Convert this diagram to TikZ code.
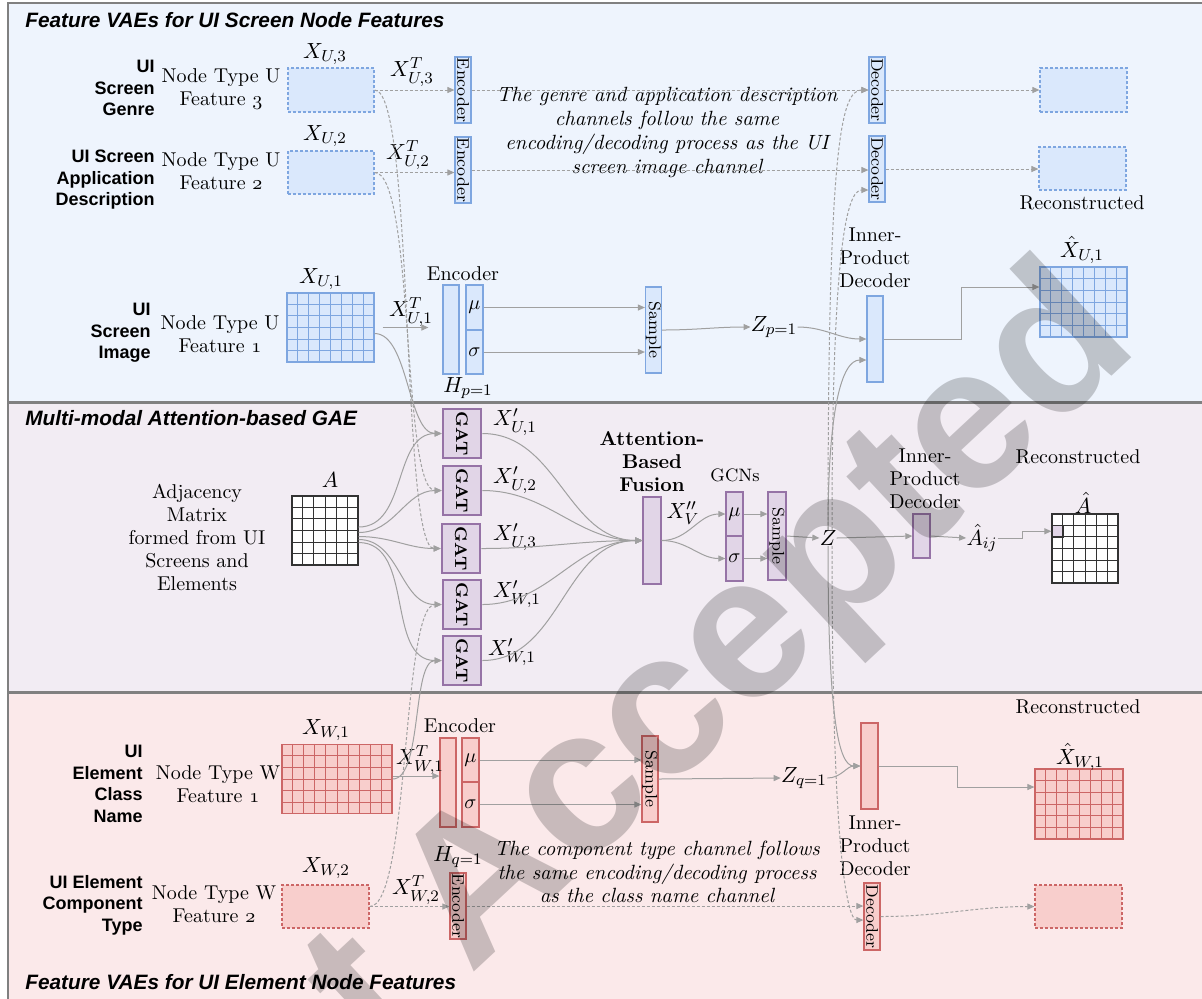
\documentclass[tikz,border=0pt]{standalone}
\usepackage{amsmath}
\usepackage{fontspec}
\setsansfont{Liberation Sans}
\usetikzlibrary{arrows.meta,calc}

\definecolor{bluefill}{HTML}{DAE8FC}
\definecolor{bluedraw}{HTML}{7EA6E0}
\definecolor{purpfill}{HTML}{E1D5E7}
\definecolor{purpdraw}{HTML}{9673A6}
\definecolor{redfill}{HTML}{F8CECC}
\definecolor{reddraw}{HTML}{CC6666}
\definecolor{linegray}{HTML}{A0A0A0}
\definecolor{framegray}{HTML}{808080}
\definecolor{bgblue}{HTML}{EEF4FD}
\definecolor{bgpurple}{HTML}{F2ECF3}
\definecolor{bgred}{HTML}{FBE9EA}

\tikzset{>/.tip={Triangle[length=3.5pt,width=3pt]}}

\newcommand{\vt}[1]{\rotatebox{-90}{#1}}
\newcommand{\osf}[1]{{\usefont{OML}{cmm}{m}{it}#1}}
\newcommand{\ms}[1]{{\fontsize{10}{10}\selectfont$#1$}}
\newcommand{\cellgrid}[3]{%
  \pgfmathtruncatemacro{\gridnx}{#2-1}%
  \pgfmathtruncatemacro{\gridny}{#3-1}%
  \foreach \i in {1,...,\gridnx}
    \draw ($(#1.north west)!\i/#2!(#1.north east)$) -- ($(#1.south west)!\i/#2!(#1.south east)$);
  \foreach \j in {1,...,\gridny}
    \draw ($(#1.north west)!\j/#3!(#1.south west)$) -- ($(#1.north east)!\j/#3!(#1.south east)$);
}

\begin{document}
\begin{tikzpicture}[x=0.5pt, y=0.5pt,
  txt/.style={inner sep=0pt, align=center, font=\fontsize{10}{11.5}\selectfont},
  mlab/.style={inner sep=0pt, font=\fontsize{11}{12}\selectfont},
  sidelab/.style={inner sep=0pt, anchor=east, align=right, font=\sffamily\bfseries\fontsize{9}{10.75}\selectfont},
  ptitle/.style={inner sep=0pt, anchor=west, font=\sffamily\bfseries\itshape\fontsize{10.4}{12}\selectfont},
  remark/.style={inner sep=0pt, align=center, font=\itshape\fontsize{10.3}{11.85}\selectfont},
  blk/.style 2 args={inner sep=0pt, line width=0.6pt, minimum width=#1*0.5pt, minimum height=#2*0.5pt, font=\fontsize{8.4}{9}\selectfont},
  ub/.style={draw=bluedraw, fill=bluefill},
  pb/.style={draw=purpdraw, fill=purpfill},
  rb/.style={draw=reddraw, fill=redfill},
  dbox/.style={dash pattern=on 1.5pt off 1pt},
  gat/.style={blk={38}{49}, pb, line width=1.3pt, font=\bfseries\fontsize{8.4}{9}\selectfont},
  conn/.style={draw=linegray, line width=0.5pt, ->},
  dconn/.style={conn, dash pattern=on 1.5pt off 1pt},
]
\useasboundingbox (0,0) rectangle (1202,-998);

% panels
\fill[bgblue] (8,-3) rectangle (1210,-402);
\fill[bgpurple] (8,-402) rectangle (1210,-692);
\fill[bgred] (8,-692) rectangle (1210,-1005);
\draw[framegray, line width=1.3pt] (1210,-3) -- (8,-3) -- (8,-1005);
\draw[framegray, line width=1.5pt] (8,-402) -- (1210,-402) (8,-692) -- (1210,-692);

\node[ptitle] (tU) at (25,-20) {Feature VAEs for UI Screen Node Features};
\node[ptitle] (tG) at (25,-418) {Multi-modal Attention-based GAE};
\node[ptitle] (tW) at (25,-982) {Feature VAEs for UI Element Node Features};

% ---- UI screen features
\node[sidelab] (sGen) at (155,-88) {UI\\Screen\\Genre};
\node[sidelab] (sApp) at (155,-180) {UI Screen\\Application\\Description};
\node[sidelab] (sImg) at (151,-333) {UI\\Screen\\Image};
\node[txt] (nU3) at (221,-89) {Node Type U\\Feature \osf{3}};
\node[txt] (nU2) at (221,-171) {Node Type U\\Feature \osf{2}};
\node[txt] (nU1) at (220,-334) {Node Type U\\Feature \osf{1}};

\node[blk={86}{44}, ub, dbox] (xU3) at (331,-90) {};
\node[blk={86}{43}, ub, dbox] (xU2) at (331,-172.5) {};
\node[blk={87}{69}, ub] (xU1) at (330.5,-327.5) {};
\node[mlab] (lxU3) at (325,-54) {$X_{U,3}$};
\node[mlab] (lxU2) at (325,-136) {$X_{U,2}$};
\node[mlab] (lxU1) at (321,-279) {$X_{U,1}$};

\node[blk={16}{66}, ub] (enc3) at (463,-90) {\vt{Encoder}};
\node[blk={16}{66}, ub] (enc2) at (463,-170) {\vt{Encoder}};
\node[mlab] (lt3) at (412,-72) {$X^T_{U,3}$};
\node[mlab] (lt2) at (408,-155) {$X^T_{U,2}$};
\node[blk={16}{66}, ub] (dec3) at (877,-90) {\vt{Decoder}};
\node[blk={16}{66}, ub] (dec2) at (877,-169) {\vt{Decoder}};
\node[blk={87}{44}, ub, dbox] (rU3) at (1083.5,-90) {};
\node[blk={87}{43}, ub, dbox] (rU2) at (1082.5,-168.5) {};
\node[txt] (recU) at (1082,-203) {Reconstructed};
\node[remark] (noteU) at (667,-132.5) {The genre and application description\\channels follow the same\\encoding/decoding process as the UI\\screen image channel};

\node[txt] (lencU) at (463,-274) {Encoder};
\node[blk={16}{89}, ub] (hU) at (451,-329.5) {};
\node[blk={17}{45}, ub] (muU) at (474.5,-307.5) {\ms{\mu}};
\node[blk={17}{44}, ub] (sigU) at (474.5,-352) {\ms{\sigma}};
\node[mlab] (lhU) at (468,-388) {$H_{p=1}$};
\node[mlab] (ltU1) at (411,-312) {$X^T_{U,1}$};
\node[blk={16}{86}, ub] (sampU) at (653.5,-330) {\vt{Sample}};
\node[mlab] (zp) at (774,-327) {$Z_{p=1}$};
\node[txt] (lipdU) at (875,-258) {Inner-\\Product\\Decoder};
\node[blk={16}{86}, ub] (ipdU) at (875,-339) {};
\node[blk={87}{70}, ub] (rxU1) at (1083.5,-302) {};
\node[mlab] (lrxU1) at (1082,-250) {$\hat{X}_{U,1}$};

% ---- GAE
\node[txt] (adj) at (197,-537) {Adjacency\\Matrix\\formed from UI\\Screens and\\Elements};
\node[blk={66}{69}, draw=black!80, fill=white] (A) at (325,-530.5) {};
\node[mlab] (lA) at (330,-480) {$A$};

\node[gat] (gat1) at (462,-433.5) {\vt{GAT}};
\node[gat] (gat2) at (462,-490.5) {\vt{GAT}};
\node[gat] (gat3) at (461,-548.5) {\vt{GAT}};
\node[gat] (gat4) at (462,-604.5) {\vt{GAT}};
\node[gat] (gat5) at (462,-660.5) {\vt{GAT}};
\node[mlab] (lg1) at (515,-422) {$X'_{U,1}$};
\node[mlab] (lg2) at (515,-480) {$X'_{U,2}$};
\node[mlab] (lg3) at (515,-537) {$X'_{U,3}$};
\node[mlab] (lg4) at (517,-594) {$X'_{W,1}$};
\node[mlab] (lg5) at (512,-652) {$X'_{W,1}$};

\node[blk={18}{87}, pb] (fus) at (652,-540.5) {};
\node[txt, font=\bfseries\fontsize{10}{11.5}\selectfont] (lfus) at (652,-462) {Attention-\\Based\\Fusion};
\node[mlab] (lxv) at (683,-513) {$X''_{V}$};
\node[txt, font=\fontsize{9}{10}\selectfont] (lgcn) at (735,-475) {GCNs};
\node[blk={17}{44}, pb] (muG) at (734.5,-514) {\ms{\mu}};
\node[blk={17}{45}, pb] (sigG) at (734.5,-558.5) {\ms{\sigma}};
\node[blk={18}{88}, pb] (sampG) at (777,-536) {\vt{Sample}};
\node[mlab] (Z) at (828,-538) {$Z$};
\node[txt] (lipdA) at (925,-479) {Inner-\\Product\\Decoder};
\node[blk={17}{44}, pb] (ipdA) at (921.5,-536) {};
\node[mlab] (Aij) at (982,-538) {$\hat{A}_{ij}$};
\node[txt] (recA) at (1078,-457) {Reconstructed};
\node[mlab] (lAh) at (1083,-503) {$\hat{A}$};
\node[blk={66}{69}, draw=black!80, fill=white] (Ah) at (1085,-548.5) {};

% ---- UI element features
\node[sidelab] (sCls) at (143,-784) {UI\\Element\\Class\\Name};
\node[sidelab] (sCmp) at (143,-905) {UI Element\\Component\\Type};
\node[txt] (nW1) at (218,-784) {Node Type W\\Feature \osf{1}};
\node[txt] (nW2) at (214,-904) {Node Type W\\Feature \osf{2}};

\node[blk={110}{69}, rb] (xW1) at (337,-779) {};
\node[mlab] (lxW1) at (326,-730) {$X_{W,1}$};
\node[blk={87}{43}, rb, dbox] (xW2) at (325.5,-906.5) {};
\node[mlab] (lxW2) at (326,-868) {$X_{W,2}$};
\node[txt] (lencW) at (460,-726) {Encoder};
\node[blk={16}{89}, rb] (hW) at (448,-782.5) {};
\node[blk={17}{44}, rb] (muW) at (470.5,-760) {\ms{\mu}};
\node[blk={17}{45}, rb] (sigW) at (470.5,-804.5) {\ms{\sigma}};
\node[mlab] (lhW) at (458,-857) {$H_{q=1}$};
\node[mlab] (ltW1) at (420,-760) {$X^T_{W,1}$};
\node[blk={16}{86}, rb] (sampW) at (650,-779) {\vt{Sample}};
\node[mlab] (zq) at (804,-778) {$Z_{q=1}$};
\node[blk={17}{86}, rb] (ipdW) at (869.5,-766) {};
\node[txt] (lipdW) at (875,-846) {Inner-\\Product\\Decoder};
\node[blk={88}{70}, rb] (rxW1) at (1079,-804) {};
\node[mlab] (lrxW1) at (1080,-757) {$\hat{X}_{W,1}$};
\node[txt] (recW) at (1078,-707) {Reconstructed};
\node[blk={16}{66}, rb] (encW2) at (458,-906) {\vt{Encoder}};
\node[mlab] (ltW2) at (416,-890) {$X^T_{W,2}$};
\node[blk={16}{67}, rb] (decW) at (872,-916.5) {\vt{Decoder}};
\node[blk={87}{43}, rb, dbox] (rW2) at (1078.5,-906.5) {};
\node[remark] (noteW) at (657,-872) {The component type channel follows\\the same encoding/decoding process\\as the class name channel};

% grids
\begin{scope}[bluedraw, line width=0.5pt]
 \cellgrid{xU1}{8}{6}
 \cellgrid{rxU1}{8}{6}
\end{scope}
\begin{scope}[reddraw, line width=0.5pt]
 \cellgrid{xW1}{10}{6}
 \cellgrid{rxW1}{8}{6}
\end{scope}
\begin{scope}[black!80, line width=0.5pt]
 \cellgrid{A}{6}{6}
 \cellgrid{Ah}{6}{6}
\end{scope}
\node[blk={11}{11.5}, draw=black!80, fill=purpfill] (acell) at (1057.5,-531.25) {};

% connectors, screen channels
\draw[dconn] (xU3.east) -- (enc3.west);
\draw[dconn] (xU2.east) -- (xU2.east -| enc2.west);
\draw[dconn] (enc3.east) -- (dec3.west);
\draw[dconn] (enc2.east) -- (enc2.east -| dec2.west);
\draw[dconn] (dec3.east) -- (rU3.west);
\draw[dconn] (dec2.east) -- (dec2.east -| rU2.west);
\draw[conn, shorten <=4pt, shorten >=7pt] (xU1.east) -- (xU1.east -| hU.west);
\draw[conn] (muU.east) -- (muU.east -| sampU.west);
\draw[conn] (sigU.east) -- (sigU.east -| sampU.west);
\draw[conn] (sampU.east) to[out=0,in=180] (zp.west);
\draw[conn] (zp.east) to[out=0,in=180] (ipdU.west);
\draw[conn] (ipdU.east) -- ++(78,0) |- ($(rxU1.west)+(0,15)$);

% GAT inputs
\draw[conn] ($(xU1.east)+(0,-6)$) to[out=0,in=180,distance=17pt] (gat1.west);
\draw[dconn] (xU2.east) to[out=0,in=180,distance=20pt] (gat2.west);
\draw[dconn] (xU3.east) to[out=0,in=180,distance=20pt] (gat3.west);
\draw[dconn] (xW2.east) to[out=0,in=180,distance=20pt] (gat4.west);
\draw[conn] (xW1.east) to[out=0,in=180,distance=15pt] (gat5.west);
\draw[conn] ($(A.east)+(0,3.5)$) to[out=0,in=180] (gat1.west);
\draw[conn] ($(A.east)+(0,-2)$) to[out=0,in=180] (gat2.west);
\draw[conn] ($(A.east)+(0,-6)$) to[out=0,in=180] (gat3.west);
\draw[conn] ($(A.east)+(0,-9)$) to[out=0,in=180] (gat4.west);
\draw[conn] ($(A.east)+(0,-12)$) to[out=0,in=180] (gat5.west);

% fusion and GCN
\draw[conn] (gat1.east) to[out=0,in=180] (fus.west);
\draw[conn] (gat2.east) to[out=0,in=180] (fus.west);
\draw[conn] (gat3.east) to[out=0,in=180] (fus.west);
\draw[conn] (gat4.east) to[out=0,in=180] (fus.west);
\draw[conn] (gat5.east) to[out=0,in=180] (fus.west);
\draw[conn] (fus.east) to[out=0,in=180] (muG.west);
\draw[conn] (fus.east) to[out=0,in=180] (sigG.west);
\draw[conn] (muG.east) -- (muG.east -| sampG.west);
\draw[conn] (sigG.east) -- (sigG.east -| sampG.west);
\draw[conn] (sampG.east) -- (Z.west);
\draw[conn] (Z.east) -- (ipdA.west);
\draw[conn] (ipdA.east) -- (Aij.west);
\draw[conn] (Aij.east) -- ++(25,0) |- (acell.west);

% Z to the decoders
\draw[conn] (Z.north) .. controls +(0,120) and +(-25,0) .. ($(ipdU.west)+(0,-21)$);
\draw[dconn] (Z.north) .. controls +(0,380) and +(-28,0) .. (dec3.west);
\draw[dconn] ($(Z.north)+(4,0)$) .. controls +(0,280) and +(-22,0) .. ($(dec2.west)+(0,-21)$);
\draw[conn] (Z.south) .. controls +(0,-170) and +(-22,0) .. (ipdW.west);
\draw[dconn] ($(Z.south)+(4,0)$) .. controls +(0,-320) and +(-15,0) .. ($(decW.west)+(0,-3.5)$);

% element channels
\draw[conn] ($(xW1.east)+(0,3)$) -- ($(hW.west)+(0,6.5)$);
\draw[conn] (muW.east) -- (muW.east -| sampW.west);
\draw[conn] (sigW.east) -- (sigW.east -| sampW.west);
\draw[conn] (sampW.east) -- (zq.west);
\draw[conn] (zq.east) to[out=0,in=180] (ipdW.west);
\draw[conn] (ipdW.east) -- ++(79,0) |- ($(rxW1.west)+(0,17)$);
\draw[dconn] (xW2.east) -- (xW2.east -| encW2.west);
\draw[dconn] (encW2.east) -- (encW2.east -| decW.west);
\draw[dconn] (decW.east) to[out=0,in=180] (rW2.west);

% watermark
\node[rotate=43, anchor=base west, inner sep=0pt, text=black, opacity=0.2, font=\sffamily\bfseries\fontsize{102}{102}\selectfont] (wm) at (122,-1300) {Just Accepted};
\end{tikzpicture}
\end{document}
